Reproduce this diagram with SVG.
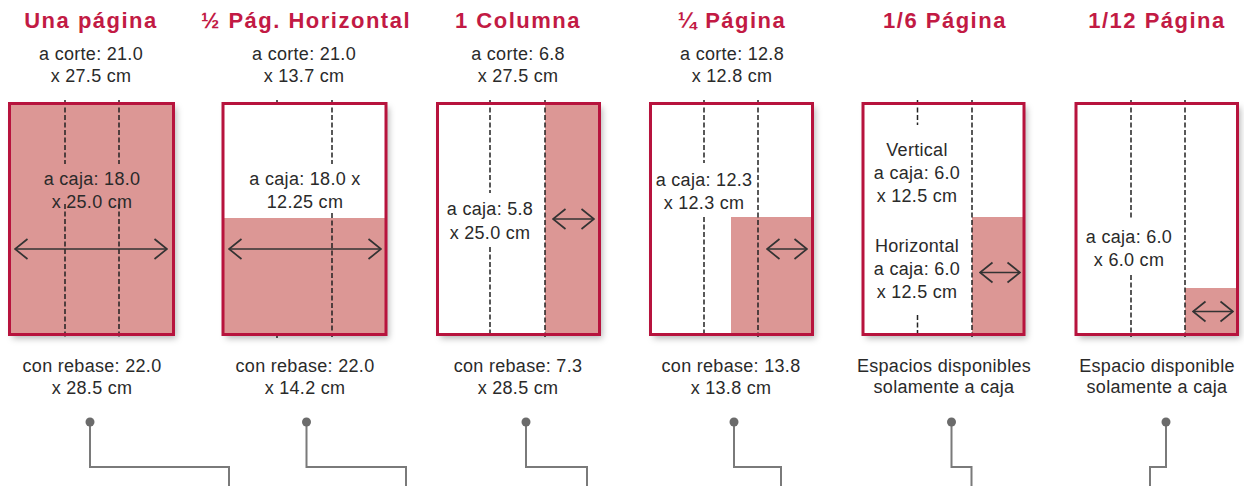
<svg xmlns="http://www.w3.org/2000/svg" width="1244" height="486" viewBox="0 0 1244 486">
<defs>
<filter id="sh" x="-10%" y="-10%" width="130%" height="130%">
<feDropShadow dx="3" dy="4" stdDeviation="3" flood-color="#000" flood-opacity="0.28"/>
</filter>
<marker id="chev" viewBox="0 0 15 23" refX="14" refY="11.5" markerWidth="15" markerHeight="23" markerUnits="userSpaceOnUse" orient="auto-start-reverse">
<path d="M1.5 1.5 L14 11.5 L1.5 21.5" fill="none" stroke="#333" stroke-width="1.7"/>
</marker>
</defs>
<style>
.bg{fill:#fff;filter:url(#sh)}
.fill{fill:#DC9795}
.frame{fill:none;stroke:#B7133D;stroke-width:3}
.dash{stroke:#222;stroke-width:1.5;stroke-dasharray:5 2.5;fill:none}
.arr{stroke:#333;stroke-width:1.7;fill:none;marker-start:url(#chev);marker-end:url(#chev)}
.title{font-family:"Liberation Sans",Arial,sans-serif;font-weight:bold;font-size:22px;letter-spacing:1.5px;fill:#C21A44;text-anchor:middle}
.t{font-family:"Liberation Sans",Arial,sans-serif;font-size:18px;letter-spacing:0.3px;fill:#2a2a2a;text-anchor:middle}
.conn{stroke:#7a7a7a;stroke-width:2;fill:none}
.dot{fill:#6b6b6b}
</style>
<rect width="1244" height="486" fill="#fff"/>

<g id="p1">
<text class="title" x="91" y="28">Una página</text>
<text class="t" x="91" y="60">a corte: 21.0</text>
<text class="t" x="91" y="82">x 27.5 cm</text>
<rect class="bg" x="9.5" y="103.5" width="164" height="231"/>
<rect class="fill" x="9.5" y="103.5" width="164" height="231"/>
<path class="dash" d="M65 100V164M65 204V337M119 100V164M119 204V337"/>
<text class="t" x="92" y="185">a caja: 18.0</text>
<text class="t" x="92" y="208">x 25.0 cm</text>
<path class="arr" d="M15 249H167"/>
<rect class="frame" x="9.5" y="103.5" width="164" height="231"/>
<text class="t" x="92" y="372">con rebase: 22.0</text>
<text class="t" x="92" y="394">x 28.5 cm</text>
</g>

<g id="p2">
<text class="title" x="306" y="28">½ Pág. Horizontal</text>
<text class="t" x="304" y="60">a corte: 21.0</text>
<text class="t" x="304" y="82">x 13.7 cm</text>
<rect class="bg" x="223" y="103.5" width="163" height="231"/>
<rect class="fill" x="223" y="218" width="163" height="116.5"/>
<path class="dash" d="M332 100V164M332 213V337M277 100V105M277 333V338"/>
<text class="t" x="305" y="185">a caja: 18.0 x</text>
<text class="t" x="305" y="208">12.25 cm</text>
<path class="arr" d="M229 249H381"/>
<rect class="frame" x="223" y="103.5" width="163" height="231"/>
<text class="t" x="305" y="372">con rebase: 22.0</text>
<text class="t" x="305" y="394">x 14.2 cm</text>
</g>

<g id="p3">
<text class="title" x="518" y="28">1 Columna</text>
<text class="t" x="518" y="60">a corte: 6.8</text>
<text class="t" x="518" y="82">x 27.5 cm</text>
<rect class="bg" x="437.5" y="103.5" width="162" height="231"/>
<rect class="fill" x="545" y="103.5" width="54.5" height="231"/>
<path class="dash" d="M490 100V193M490 247V337M545 100V337"/>
<text class="t" x="490" y="215">a caja: 5.8</text>
<text class="t" x="490" y="239">x 25.0 cm</text>
<path class="arr" d="M553 219H594"/>
<rect class="frame" x="437.5" y="103.5" width="162" height="231"/>
<text class="t" x="518" y="372">con rebase: 7.3</text>
<text class="t" x="518" y="394">x 28.5 cm</text>
</g>

<g id="p4">
<text class="title" x="732" y="28">¼ Página</text>
<text class="t" x="732" y="60">a corte: 12.8</text>
<text class="t" x="732" y="82">x 12.8 cm</text>
<rect class="bg" x="650.5" y="103.5" width="162" height="231"/>
<rect class="fill" x="731" y="217" width="81.5" height="117.5"/>
<path class="dash" d="M704 100V163M704 217V337M758 100V337"/>
<text class="t" x="704" y="186">a caja: 12.3</text>
<text class="t" x="704" y="209">x 12.3 cm</text>
<path class="arr" d="M767 249H807"/>
<rect class="frame" x="650.5" y="103.5" width="162" height="231"/>
<text class="t" x="731" y="372">con rebase: 13.8</text>
<text class="t" x="731" y="394">x 13.8 cm</text>
</g>

<g id="p5">
<text class="title" x="945" y="28">1/6 Página</text>
<rect class="bg" x="863" y="103.5" width="161" height="231"/>
<rect class="fill" x="972" y="217" width="52" height="117.5"/>
<path class="dash" d="M917.5 100V125M917.5 315V337M972 100V337"/>
<text class="t" x="917" y="156">Vertical</text>
<text class="t" x="917" y="179">a caja: 6.0</text>
<text class="t" x="917" y="202">x 12.5 cm</text>
<text class="t" x="917" y="252">Horizontal</text>
<text class="t" x="917" y="275">a caja: 6.0</text>
<text class="t" x="917" y="298">x 12.5 cm</text>
<path class="arr" d="M980 272.5H1020"/>
<rect class="frame" x="863" y="103.5" width="161" height="231"/>
<text class="t" x="944" y="372">Espacios disponibles</text>
<text class="t" x="944" y="393">solamente a caja</text>
</g>

<g id="p6">
<text class="title" x="1157" y="28">1/12 Página</text>
<rect class="bg" x="1076" y="103.5" width="161.5" height="231"/>
<rect class="fill" x="1185" y="288" width="52.5" height="46.5"/>
<path class="dash" d="M1131 100V220M1131 275V337M1185 100V337"/>
<text class="t" x="1129" y="243">a caja: 6.0</text>
<text class="t" x="1129" y="266">x 6.0 cm</text>
<path class="arr" d="M1193 311.5H1233"/>
<rect class="frame" x="1076" y="103.5" width="161.5" height="231"/>
<text class="t" x="1157" y="372">Espacio disponible</text>
<text class="t" x="1157" y="393">solamente a caja</text>
</g>

<g id="connectors">
<path class="conn" d="M90 422V467H229V486"/>
<path class="conn" d="M306.5 422V467H406V486"/>
<path class="conn" d="M526 422V467H587V486"/>
<path class="conn" d="M734 422V467H781V486"/>
<path class="conn" d="M951.5 422V467H971.5V486"/>
<path class="conn" d="M1166 422V467H1150V486"/>
<circle class="dot" cx="90" cy="422" r="4.5"/>
<circle class="dot" cx="306.5" cy="422" r="4.5"/>
<circle class="dot" cx="526" cy="422" r="4.5"/>
<circle class="dot" cx="734" cy="422" r="4.5"/>
<circle class="dot" cx="951.5" cy="422" r="4.5"/>
<circle class="dot" cx="1166" cy="422" r="4.5"/>
</g>
</svg>
